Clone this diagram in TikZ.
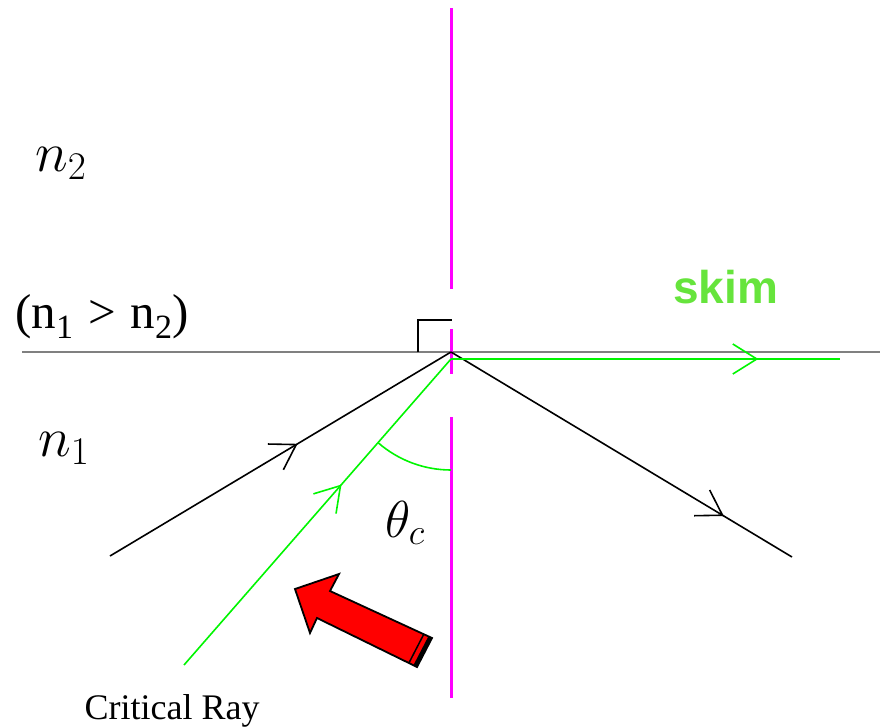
\documentclass[tikz,border=0pt]{standalone}
\usepackage{fix-cm}
\usepackage{fontspec}
\newfontfamily\timesf{Liberation Serif}
\newfontfamily\arialf{Liberation Sans}
\usetikzlibrary{arrows.meta,decorations.markings}
\definecolor{mag}{RGB}{255,0,255}
\definecolor{ltgreen}{RGB}{0,245,0}
\definecolor{skimgreen}{RGB}{102,228,60}
\definecolor{ifgray}{RGB}{128,128,128}
\definecolor{arrred}{RGB}{255,0,0}
\tikzset{
  ray/.style={line width=1.6pt},
  midarrow/.style 2 args={postaction={decorate},
    decoration={markings,mark=at position #1 with {\arrow{Straight Barb[length=24pt,width=30pt,line width=1.6pt,color=#2]}}}},
  lbl/.style={inner sep=0pt,anchor=base west},
}
\begin{document}
\begin{tikzpicture}[x=1pt,y=-1pt]
\useasboundingbox (0,0) rectangle (884,728);
% coordinates
\coordinate (O) at (451,352);
\coordinate (G) at (451,359);
\coordinate (inS) at (110,556);
\coordinate (outE) at (792,557);
\coordinate (crS) at (184,665);
\coordinate (skE) at (840,359);
\coordinate (hL) at (22,352);
\coordinate (hR) at (880,352);
\coordinate (m1) at (451,8);
\coordinate (m2) at (451,289);
\coordinate (m3) at (451,329);
\coordinate (m4) at (451,374);
\coordinate (m5) at (451,417);
\coordinate (m6) at (451,698);
\coordinate (sq1) at (418,352);
\coordinate (sq2) at (418,320);
\coordinate (sq3) at (452,320);
% interface
\draw[ifgray,line width=2pt] (hL) -- (hR);
% normal
\draw[mag,line width=3pt] (m1) -- (m2);
\draw[mag,line width=3pt] (m3) -- (m4);
\draw[mag,line width=3pt] (m5) -- (m6);
% right angle
\draw[black,line width=2.5pt] (sq1) -- (sq2) -- (sq3);
% rays
\draw[ray,black,midarrow={0.55}{black}] (inS) -- (O);
\draw[ray,black,midarrow={0.8}{black}] (O) -- (outE);
\draw[ray,ltgreen,midarrow={0.59}{ltgreen}] (crS) -- (G);
\draw[ray,ltgreen,midarrow={0.79}{ltgreen}] (G) -- (skE);
% angle arc
\draw[ray,ltgreen] (G) ++(0,111) arc[start angle=90,end angle=131,radius=111];
% red block arrow
\filldraw[fill=arrred,draw=black,line width=1.8pt,line join=miter]
  (295,589) -- (339,574) -- (330,591) -- (432,638) -- (417,667) -- (317,618) -- (310,633) -- cycle;
\draw[black,line width=4pt] (430.2,637.2) -- (415.2,666.1);
\draw[black,line width=1.5pt] (423.8,634.2) -- (408.9,663.0);
% labels
\node[lbl] (n2) at (35,171) {\fontsize{56}{60}\selectfont $n_2$};
\node[lbl] (n1) at (38,456) {\fontsize{56}{60}\selectfont $n_1$};
\node[lbl] (thc) at (385,537) {\fontsize{52}{60}\selectfont $\theta_c$};
\node[lbl] (cond) at (15,328) {\timesf\fontsize{49}{50}\selectfont (n\raisebox{-0.22em}{\fontsize{34}{34}\selectfont 1}\hspace{15pt}{>}\hspace{15pt}n\raisebox{-0.22em}{\fontsize{34}{34}\selectfont 2})};
\node[lbl] (skim) at (673,303) {\arialf\bfseries\fontsize{46}{50}\selectfont\color{skimgreen} skim};
\node[inner sep=0pt,anchor=base] (crit) at (172,719) {\timesf\fontsize{36}{40}\selectfont Critical Ray};
\end{tikzpicture}
\end{document}
